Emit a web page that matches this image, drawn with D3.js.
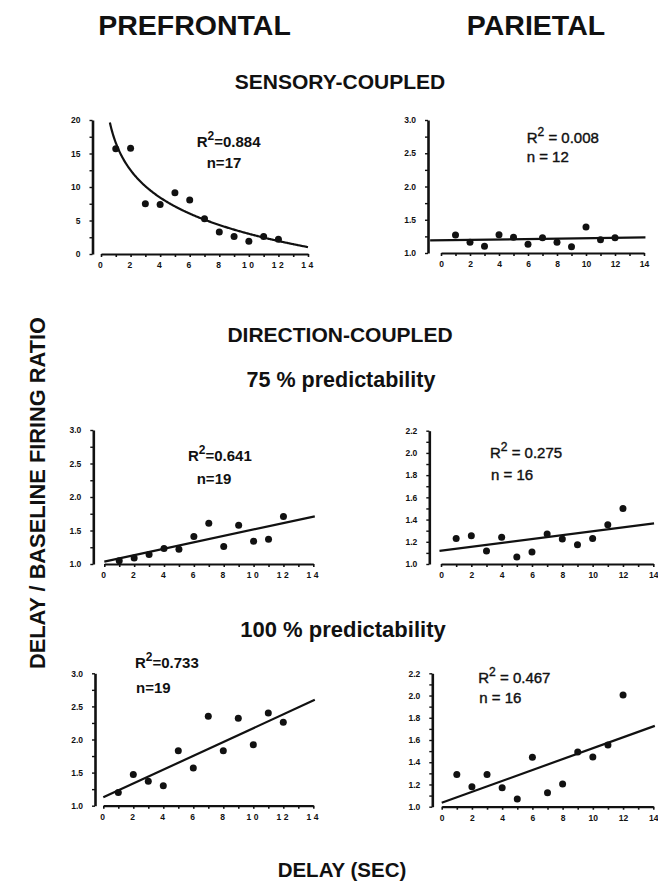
<!DOCTYPE html>
<html>
<head>
<meta charset="utf-8">
<script src="https://cdn.jsdelivr.net/npm/d3@7"></script>
<style>
  body { margin: 0; background: #fff; }
  svg { display: block; }
  text { font-family: "Liberation Sans", Arial, sans-serif; fill: #111; }
</style>
</head>
<body>
<svg id="chart" width="658" height="891"></svg>
<script>
// delays (s) for every panel
const delaySec = [1, 2, 3, 4, 5, 6, 7, 8, 9, 10, 11, 12];

// delay / baseline firing ratio
const pfcSensory = [15.7, 15.8, 7.5, 7.4, 9.15, 8.05, 5.25, 3.3, 2.6, 1.9, 2.6, 2.2];
const ppcSensory = [1.27, 1.16, 1.10, 1.275, 1.235, 1.13, 1.23, 1.16, 1.095, 1.39, 1.2, 1.23];
const pfc75 = [1.05, 1.09, 1.14, 1.23, 1.22, 1.41, 1.61, 1.26, 1.58, 1.34, 1.37, 1.71];
const ppc75 = [1.23, 1.255, 1.117, 1.24, 1.063, 1.108, 1.27, 1.225, 1.174, 1.23, 1.354, 1.50];
const pfc100 = [1.2, 1.47, 1.37, 1.30, 1.83, 1.57, 2.35, 1.83, 2.32, 1.92, 2.40, 2.26];
const ppc100 = [1.29, 1.18, 1.29, 1.17, 1.07, 1.444, 1.126, 1.204, 1.492, 1.447, 1.555, 2.005];

// fit coefficients: log fit [a, b] -> a + b*ln(x); linear [intercept, slope]
const fitPfcSensory = [16.6, -5.9];
const fitPpcSensory = [1.192, 0.003];
const fitPfc75 = [1.035, 0.048];
const fitPpc75 = [1.12, 0.0175];
const fitPfc100 = [1.126, 0.1045];
const fitPpc100 = [1.036, 0.049];

// statistics printed on the panels
const r2Labels = ["0.884", "0.008", "0.641", "0.275", "0.733", "0.467"];
const nLabels = ["17", "12", "19", "16", "19", "16"];

// tick labels
const xTicks = [0, 2, 4, 6, 8, 10, 12, 14];
const yTicksSensoryPfc = [0, 5, 10, 15, 20];
const yTicks30 = [1.0, 1.5, 2.0, 2.5, 3.0];
const yTicks22 = [1.0, 1.2, 1.4, 1.6, 1.8, 2.0, 2.2];

const svg = d3.select("#chart");
const font = "'Liberation Sans', Arial, sans-serif";

// panel geometry (pixels) and annotation anchors (data units)
const panels = [
  { ys: pfcSensory, fit: fitPfcSensory, kind: "log", yDom: [0, 20], yTicks: yTicksSensoryPfc, yMinor: 2.5,
    x0: 101, x1: 308, axX: 92.5, top: 120, bot: 254, left: true, fitX: [0.5, 14],
    r2At: [6.47, 16.0], nAt: [7.15, 12.9], spaced: false },
  { ys: ppcSensory, fit: fitPpcSensory, kind: "lin", yDom: [1, 3], yTicks: yTicks30, yMinor: 0.25,
    x0: 441, x1: 644, axX: 428, top: 120, bot: 253, left: false, fitX: [-0.75, 14.1],
    r2At: [5.91, 2.65], nAt: [5.91, 2.37], spaced: true },
  { ys: pfc75, fit: fitPfc75, kind: "lin", yDom: [1, 3], yTicks: yTicks30, yMinor: 0.25,
    x0: 104.3, x1: 313.3, axX: 93.3, top: 430, bot: 564, left: true, fitX: [0, 14.1],
    r2At: [5.6, 2.54], nAt: [6.19, 2.20], spaced: false },
  { ys: ppc75, fit: fitPpc75, kind: "lin", yDom: [1, 2.2], yTicks: yTicks22, yMinor: 0.1,
    x0: 441, x1: 653.3, axX: 429.3, top: 430.7, bot: 564, left: false, fitX: [-0.1, 14.05],
    r2At: [3.23, 1.95], nAt: [3.3, 1.756], spaced: true },
  { ys: pfc100, fit: fitPfc100, kind: "lin", yDom: [1, 3], yTicks: yTicks30, yMinor: 0.25,
    x0: 103.3, x1: 313.3, axX: 95, top: 673.3, bot: 805.7, left: true, fitX: [0, 14.1],
    r2At: [2.11, 3.08], nAt: [2.18, 2.70], spaced: false },
  { ys: ppc100, fit: fitPpc100, kind: "lin", yDom: [1, 2.2], yTicks: yTicks22, yMinor: 0.1,
    x0: 441.7, x1: 653.3, axX: 432.3, top: 673.3, bot: 806.7, left: false, fitX: [0, 14.1],
    r2At: [2.42, 2.11], nAt: [2.49, 1.935], spaced: true }
];

panels.forEach((p, i) => {
  const x = d3.scaleLinear().domain([0, 14]).range([p.x0, p.x1]);
  const y = d3.scaleLinear().domain(p.yDom).range([p.bot, p.top]);
  const g = svg.append("g").attr("class", `panel-${i}`);

  // x axis: ticks each second, labels every 2
  const xAx = g.append("g")
    .attr("transform", `translate(0,${p.bot})`)
    .call(d3.axisBottom(x).tickValues(d3.range(0, 15)).tickSize(3).tickSizeOuter(0)
      .tickPadding(5)
      .tickFormat(d => xTicks.includes(d) ? d : ""));
  xAx.select(".domain").attr("stroke", "#111").attr("stroke-width", 2.2);
  xAx.selectAll(".tick line").attr("stroke", "#111").attr("stroke-width", 1.6);
  xAx.selectAll(".tick text")
    .style("font-family", font).style("font-weight", "bold").style("font-size", "8.5px")
    .attr("fill", "#111")
    .style("letter-spacing", p.left ? "2.5px" : "0px");

  // y axis sits a little left of x = 0
  const yAx = g.append("g")
    .attr("transform", `translate(${p.axX},0)`)
    .call(d3.axisLeft(y).tickValues(d3.range(p.yDom[0], p.yDom[1] + 1e-9, p.yMinor))
      .tickSize(3).tickSizeOuter(0).tickPadding(9)
      .tickFormat(d => {
        const hit = p.yTicks.find(t => Math.abs(t - d) < 1e-6);
        if (hit === undefined) return "";
        return p.yDom[1] > 5 ? d3.format("d")(hit) : d3.format(".1f")(hit);
      }));
  yAx.select(".domain").attr("stroke", "#111").attr("stroke-width", 2.6);
  yAx.selectAll(".tick line").attr("stroke", "#111").attr("stroke-width", 1.4);
  yAx.selectAll(".tick text")
    .style("font-family", font).style("font-weight", "bold").style("font-size", "8.5px")
    .attr("fill", "#111");

  // fit
  let fitPts;
  if (p.kind === "log") {
    const xs = d3.range(p.fitX[0], p.fitX[1] + 1e-9, 0.05);
    fitPts = xs.map(v => [v, p.fit[0] + p.fit[1] * Math.log(v)])
      .filter(d => d[1] <= p.yDom[1]);
  } else {
    fitPts = p.fitX.map(v => [v, p.fit[0] + p.fit[1] * v]);
  }
  g.append("path")
    .datum(fitPts)
    .attr("fill", "none")
    .attr("stroke", "#111")
    .attr("stroke-width", 2.2)
    .attr("d", d3.line().x(d => x(d[0])).y(d => y(d[1])).curve(d3.curveLinear));

  // points
  g.selectAll("circle.pt")
    .data(delaySec.map((d, k) => [d, p.ys[k]]))
    .join("circle")
    .attr("class", "pt")
    .attr("cx", d => x(d[0]))
    .attr("cy", d => y(d[1]))
    .attr("r", 3.5)
    .attr("fill", "#111");

  // R² and n
  const eq = p.spaced ? " = " : "=";
  const weight = p.left ? "bold" : "normal";
  const r2 = g.append("text")
    .attr("x", x(p.r2At[0])).attr("y", y(p.r2At[1]))
    .style("font-size", "15px").style("font-weight", weight)
    .attr("stroke", p.left ? "none" : "#111").attr("stroke-width", 0.4);
  r2.append("tspan").text("R");
  r2.append("tspan").attr("dy", -7).style("font-size", "12px").text("2");
  r2.append("tspan").attr("dy", 7).text(eq + r2Labels[i]);
  g.append("text")
    .attr("x", x(p.nAt[0])).attr("y", y(p.nAt[1]))
    .style("font-size", "15px").style("font-weight", weight)
    .attr("stroke", p.left ? "none" : "#111").attr("stroke-width", 0.4)
    .text("n" + eq + nLabels[i]);
});

// headings
const heads = [
  { t: "PREFRONTAL", x: 194.5, y: 35, s: 28.5 },
  { t: "PARIETAL", x: 536, y: 35, s: 28.5 },
  { t: "SENSORY-COUPLED", x: 340, y: 89, s: 21 },
  { t: "DIRECTION-COUPLED", x: 340, y: 342, s: 21 },
  { t: "75 % predictability", x: 341, y: 387, s: 21.5 },
  { t: "100 % predictability", x: 343, y: 637, s: 22 },
  { t: "DELAY (SEC)", x: 342, y: 877, s: 20.5 }
];
svg.selectAll("text.head")
  .data(heads)
  .join("text")
  .attr("class", "head")
  .attr("x", d => d.x).attr("y", d => d.y)
  .attr("text-anchor", "middle")
  .style("font-size", d => d.s + "px")
  .style("font-weight", "bold")
  .text(d => d.t);

svg.append("text")
  .attr("transform", "translate(45,493) rotate(-90)")
  .attr("text-anchor", "middle")
  .style("font-size", "21.8px")
  .style("font-weight", "bold")
  .text("DELAY / BASELINE FIRING RATIO");
</script>
</body>
</html>
